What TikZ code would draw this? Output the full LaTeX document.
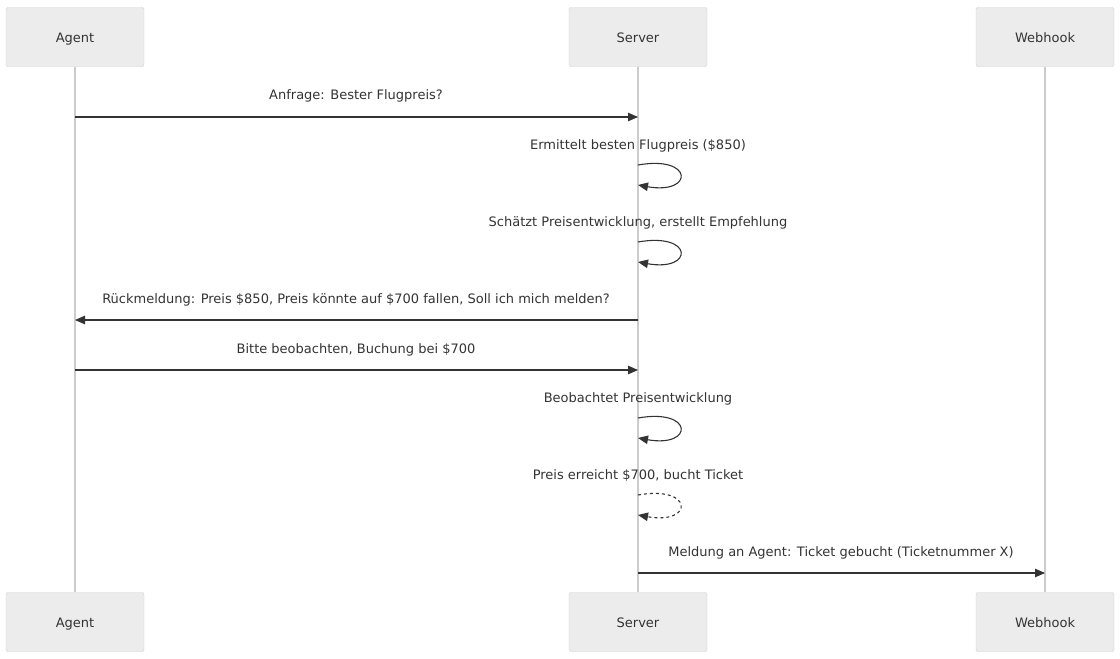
\documentclass[tikz,border=0pt]{standalone}
\usepackage{fontspec}
\setmainfont{DejaVu Sans}
\usetikzlibrary{arrows.meta}
\definecolor{boxfill}{HTML}{ECECEC}
\definecolor{boxline}{HTML}{D0D0D0}
\definecolor{lifeline}{HTML}{CCCCCC}
\definecolor{msgline}{HTML}{333333}
\tikzset{
  actor/.style={draw=boxline, fill=boxfill, rounded corners=2pt, minimum width=138pt,
    minimum height=59pt, text=msgline, text height=12.5pt, text depth=2pt,
    font=\fontsize{13}{15}\selectfont},
  msg/.style={draw=msgline, line width=1.1pt, -{Triangle[length=10pt,width=8.5pt]}},
  label/.style={text=msgline, text height=12.5pt, text depth=2pt, font=\fontsize{13}{15}\selectfont},
}
\begin{document}
\begin{tikzpicture}[x=1pt, y=-1pt]
\useasboundingbox (0,0) rectangle (1120,659);

\node[actor] (agentT) at (75,37) {Agent};
\node[actor] (serverT) at (638,37) {Server};
\node[actor] (hookT) at (1045,37) {Webhook};
\node[actor] (agentB) at (75,622) {Agent};
\node[actor] (serverB) at (638,622) {Server};
\node[actor] (hookB) at (1045,622) {Webhook};

\draw[lifeline, line width=1.5pt] (agentT) -- (agentB);
\draw[lifeline, line width=1.5pt] (serverT) -- (serverB);
\draw[lifeline, line width=1.5pt] (hookT) -- (hookB);

% Anfrage
\coordinate (a1) at (75,117); \coordinate (s1) at (638,117);
\node[label] (m1) at (356,94) {Anfrage: Bester Flugpreis?};
\draw[msg] (a1) -- (s1);

% Ermittelt
\coordinate (s2a) at (638,165); \coordinate (s2b) at (638,185);
\node[label] (m2) at (638,144) {Ermittelt besten Flugpreis (\$850)};
\draw[msg] (s2a) .. controls (694,155) and (694,195) .. (s2b);

% Schaetzt
\coordinate (s3a) at (638,242); \coordinate (s3b) at (638,262);
\node[label] (m3) at (638,221) {Schätzt Preisentwicklung, erstellt Empfehlung};
\draw[msg] (s3a) .. controls (694,232) and (694,272) .. (s3b);

% Rueckmeldung
\coordinate (s4) at (638,320); \coordinate (a4) at (75,320);
\node[label] (m4) at (356,298) {Rückmeldung: Preis \$850, Preis könnte auf \$700 fallen, Soll ich mich melden?};
\draw[msg] (s4) -- (a4);

% Bitte beobachten
\coordinate (a5) at (75,370); \coordinate (s5) at (638,370);
\node[label] (m5) at (356,348) {Bitte beobachten, Buchung bei \$700};
\draw[msg] (a5) -- (s5);

% Beobachtet
\coordinate (s6a) at (638,418); \coordinate (s6b) at (638,438);
\node[label] (m6) at (638,397) {Beobachtet Preisentwicklung};
\draw[msg] (s6a) .. controls (694,408) and (694,448) .. (s6b);

% Preis erreicht
\coordinate (s7a) at (638,495); \coordinate (s7b) at (638,515);
\node[label] (m7) at (638,474) {Preis erreicht \$700, bucht Ticket};
\draw[msg, dash pattern=on 3pt off 3pt] (s7a) .. controls (694,485) and (694,525) .. (s7b);

% Meldung an Webhook
\coordinate (s8) at (638,573); \coordinate (h8) at (1045,573);
\node[label] (m8) at (841,551) {Meldung an Agent: Ticket gebucht (Ticketnummer X)};
\draw[msg] (s8) -- (h8);

\end{tikzpicture}
\end{document}
